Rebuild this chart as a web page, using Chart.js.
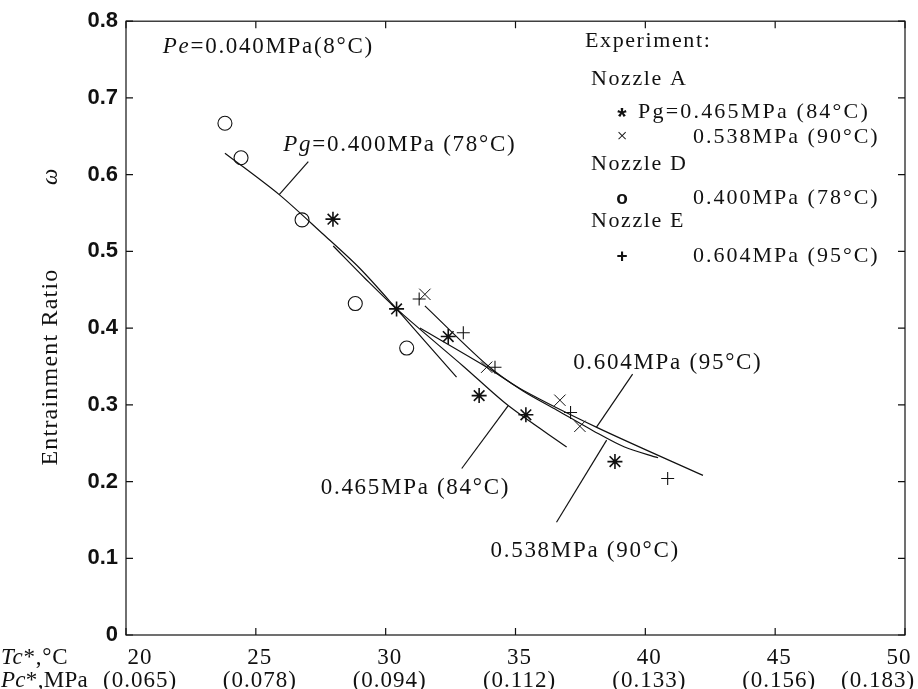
<!DOCTYPE html>
<html>
<head>
<meta charset="utf-8">
<script src="https://cdn.jsdelivr.net/npm/chart.js@4.4.1/dist/chart.umd.min.js"></script>
<style>
  html, body { margin: 0; padding: 0; background: #fff; }
  #wrap { width: 918px; height: 689px; }
</style>
</head>
<body>
<div id="wrap"><canvas id="chart" width="918" height="689"></canvas></div>
<script>
// axes
const xTicks = [20, 25, 30, 35, 40, 45, 50];
const xPressure = ['(0.065)', '(0.078)', '(0.094)', '(0.112)', '(0.133)', '(0.156)', '(0.183)'];
const yTicks = [0, 0.1, 0.2, 0.3, 0.4, 0.5, 0.6, 0.7, 0.8];

// experiment, nozzle A, Pg=0.465MPa (stars)
const starX = [27.97, 30.42, 32.41, 33.60, 35.40, 38.83];
const starY = [0.542, 0.425, 0.389, 0.312, 0.287, 0.226];
// nozzle A, 0.538MPa (x marks)
const crossX = [31.51, 33.89, 36.71, 37.48];
const crossY = [0.444, 0.349, 0.306, 0.272];
// nozzle D, 0.400MPa (circles)
const circleX = [23.81, 24.43, 26.78, 28.83, 30.81];
const circleY = [0.667, 0.622, 0.541, 0.432, 0.374];
// nozzle E, 0.604MPa (plus)
const plusX = [31.29, 32.99, 34.21, 37.12, 40.86];
const plusY = [0.438, 0.394, 0.349, 0.290, 0.204];

// calculated curves
const curve400X = [23.81, 25.90, 27.54, 29.00, 30.42, 32.73];
const curve400Y = [0.628, 0.574, 0.524, 0.478, 0.425, 0.336];
const curve465X = [27.98, 29.20, 30.42, 33.00, 34.72, 36.97];
const curve465Y = [0.507, 0.465, 0.425, 0.350, 0.299, 0.245];
const curve538X = [31.51, 33.90, 35.29, 36.60, 38.00, 39.20, 40.49];
const curve538Y = [0.429, 0.352, 0.318, 0.293, 0.266, 0.245, 0.231];
const curve604X = [31.32, 33.89, 35.29, 38.17, 42.22];
const curve604Y = [0.400, 0.349, 0.319, 0.270, 0.208];

// label leader lines
const leader400X = [25.90, 27.02], leader400Y = [0.574, 0.617];
const leader465X = [32.93, 34.72], leader465Y = [0.217, 0.299];
const leader538X = [36.58, 38.51], leader538Y = [0.147, 0.254];
const leader604X = [39.51, 38.12], leader604Y = [0.340, 0.271];

const INK = '#111';
const zip = (xs, ys) => xs.map((x, i) => ({ x: x, y: ys[i] }));

function lineSet(xs, ys, tension) {
  return {
    data: zip(xs, ys), showLine: true, borderColor: INK, borderWidth: 1.2,
    pointRadius: 0, tension: tension, fill: false
  };
}
function pointSet(xs, ys, style, r, w) {
  return {
    data: zip(xs, ys), showLine: false, pointStyle: style, pointRadius: r,
    borderColor: INK, backgroundColor: 'rgba(0,0,0,0)', borderWidth: w
  };
}

// annotation texts: parts, left x / baseline y in data units
const notes = [
  { parts: [['Pe', true], ['=0.040MPa(8°C)', false]], x: 21.42, y: 0.7585 },
  { parts: [['Pg', true], ['=0.400MPa (78°C)', false]], x: 26.06, y: 0.631 },
  { parts: [['0.604MPa (95°C)', false]], x: 37.22, y: 0.347 },
  { parts: [['0.465MPa (84°C)', false]], x: 27.50, y: 0.184 },
  { parts: [['0.538MPa (90°C)', false]], x: 34.04, y: 0.102 }
];

function drawRich(ctx, parts, x, y, size, spacing, align) {
  ctx.letterSpacing = spacing + 'px';
  let total = 0;
  parts.forEach(p => {
    ctx.font = (p[1] ? 'italic ' : '') + size + 'px "Liberation Serif"';
    total += ctx.measureText(p[0]).width;
  });
  let cx = align === 'center' ? x - total / 2 : x;
  ctx.textAlign = 'left';
  parts.forEach(p => {
    ctx.font = (p[1] ? 'italic ' : '') + size + 'px "Liberation Serif"';
    ctx.fillText(p[0], cx, y);
    cx += ctx.measureText(p[0]).width;
  });
  ctx.letterSpacing = '0px';
}

const decor = {
  id: 'decor',
  afterDraw(chart) {
    const { ctx, chartArea: a, scales } = chart;
    const sx = scales.x, sy = scales.y;
    ctx.save();
    ctx.strokeStyle = INK;
    ctx.fillStyle = INK;
    ctx.lineWidth = 1.2;
    // frame
    ctx.strokeRect(a.left, a.top, a.right - a.left, a.bottom - a.top);
    // inward ticks on all four sides
    ctx.beginPath();
    xTicks.forEach(v => {
      const px = sx.getPixelForValue(v);
      ctx.moveTo(px, a.bottom); ctx.lineTo(px, a.bottom - 7);
      ctx.moveTo(px, a.top); ctx.lineTo(px, a.top + 7);
    });
    yTicks.forEach(v => {
      const py = sy.getPixelForValue(v);
      ctx.moveTo(a.left, py); ctx.lineTo(a.left + 7, py);
      ctx.moveTo(a.right, py); ctx.lineTo(a.right - 7, py);
    });
    ctx.stroke();

    // x tick labels, two rows
    ctx.textBaseline = 'alphabetic';
    xTicks.forEach((v, i) => {
      let px = sx.getPixelForValue(v);
      let shift1 = i === 0 ? 14 : (i === xTicks.length - 1 ? -6 : 4);
      let shift2 = i === 0 ? 14 : (i === xTicks.length - 1 ? -27 : 4);
      drawRich(ctx, [[String(v), false]], px + shift1, 664, 23, 1, 'center');
      drawRich(ctx, [[xPressure[i], false]], px + shift2, 687, 23, 1, 'center');
    });
    drawRich(ctx, [['Tc', true], ['*,°C', false]], 1, 664, 23, 0.8, 'left');
    drawRich(ctx, [['Pc', true], ['*,MPa', false]], 1, 687, 23, 0.3, 'left');

    // y axis title
    ctx.save();
    ctx.translate(57, 367);
    ctx.rotate(-Math.PI / 2);
    drawRich(ctx, [['Entrainment Ratio', false]], 0, 0, 24, 1.2, 'center');
    ctx.restore();
    ctx.save();
    ctx.translate(57, 177);
    ctx.rotate(-Math.PI / 2);
    drawRich(ctx, [['ω', true]], 0, 0, 23, 0, 'center');
    ctx.restore();

    // annotations
    notes.forEach(n => {
      drawRich(ctx, n.parts, sx.getPixelForValue(n.x), sy.getPixelForValue(n.y), 23, 1.7, 'left');
    });

    // legend
    const lg = [
      ['Experiment:', 585, 47], ['Nozzle A', 591, 85], ['Nozzle D', 591, 170], ['Nozzle E', 591, 227]
    ];
    lg.forEach(t => drawRich(ctx, [[t[0], false]], t[1], t[2], 22, 1.6, 'left'));
    drawRich(ctx, [['Pg=0.465MPa (84°C)', false]], 638, 118, 22, 2.2, 'left');
    drawRich(ctx, [['0.538MPa (90°C)', false]], 693, 143, 22, 2.0, 'left');
    drawRich(ctx, [['0.400MPa (78°C)', false]], 693, 204, 22, 2.0, 'left');
    drawRich(ctx, [['0.604MPa (95°C)', false]], 693, 262, 22, 2.0, 'left');
    ctx.textAlign = 'center';
    ctx.font = 'bold 24px "Liberation Sans"';
    ctx.fillText('*', 622, 125);
    ctx.font = '19px "Liberation Serif"';
    ctx.fillText('×', 622, 142);
    ctx.font = 'bold 19px "Liberation Sans"';
    ctx.fillText('o', 622, 204);
    ctx.fillText('+', 622, 262);
    ctx.restore();
  }
};

new Chart(document.getElementById('chart'), {
  type: 'scatter',
  data: {
    datasets: [
      lineSet(curve400X, curve400Y, 0.3),
      lineSet(curve465X, curve465Y, 0.3),
      lineSet(curve538X, curve538Y, 0.3),
      lineSet(curve604X, curve604Y, 0.3),
      lineSet(leader400X, leader400Y, 0),
      lineSet(leader465X, leader465Y, 0),
      lineSet(leader538X, leader538Y, 0),
      lineSet(leader604X, leader604Y, 0),
      pointSet(starX, starY, 'star', 7.5, 1.6),
      pointSet(crossX, crossY, 'crossRot', 8, 1),
      pointSet(circleX, circleY, 'circle', 7, 1.1),
      pointSet(plusX, plusY, 'cross', 6.5, 1.1)
    ]
  },
  options: {
    responsive: false,
    animation: false,
    devicePixelRatio: 1,
    layout: { padding: { top: 19, right: 13, left: 0, bottom: 0 } },
    plugins: { legend: { display: false }, tooltip: { enabled: false } },
    scales: {
      x: {
        type: 'linear', min: 20, max: 50,
        ticks: { display: false, stepSize: 5 },
        grid: { display: false, drawTicks: false },
        border: { display: false },
        afterFit: s => { s.height = 54; }
      },
      y: {
        type: 'linear', min: 0, max: 0.8,
        ticks: {
          stepSize: 0.1, padding: 8, color: INK,
          font: { family: 'Liberation Sans', size: 22, weight: 'bold' },
          callback: v => (Math.abs(v) < 1e-9 ? '0' : v.toFixed(1))
        },
        grid: { display: false, drawTicks: false },
        border: { display: false },
        afterFit: s => { s.width = 126; }
      }
    }
  },
  plugins: [decor]
});
</script>
</body>
</html>
